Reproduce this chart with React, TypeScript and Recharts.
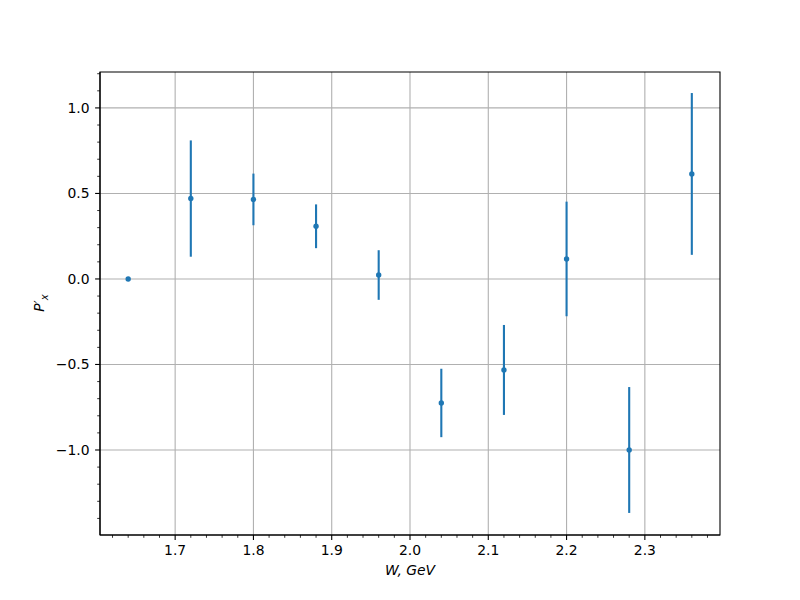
import { ScatterChart, Scatter, XAxis, YAxis, CartesianGrid, ErrorBar, ReferenceArea } from 'recharts';

// beam energy W (GeV) and measured P'x with its uncertainty
const wValues = [1.64, 1.72, 1.8, 1.88, 1.96, 2.04, 2.12, 2.2, 2.28, 2.36];
const pxValues = [0, 0.47, 0.465, 0.308, 0.023, -0.725, -0.532, 0.117, -1.0, 0.614];
const pxErrors = [0, 0.34, 0.151, 0.128, 0.145, 0.2, 0.263, 0.335, 0.368, 0.473];

const xMajorTicks = [1.7, 1.8, 1.9, 2.0, 2.1, 2.2, 2.3];
const xAllTicks = [
  1.62, 1.64, 1.66, 1.68, 1.7, 1.72, 1.74, 1.76, 1.78, 1.8, 1.82, 1.84, 1.86, 1.88, 1.9, 1.92, 1.94, 1.96, 1.98, 2.0,
  2.02, 2.04, 2.06, 2.08, 2.1, 2.12, 2.14, 2.16, 2.18, 2.2, 2.22, 2.24, 2.26, 2.28, 2.3, 2.32, 2.34, 2.36, 2.38,
];
const yMajorTicks = [-1.0, -0.5, 0, 0.5, 1.0];
const yAllTicks = [
  -1.4, -1.3, -1.2, -1.1, -1.0, -0.9, -0.8, -0.7, -0.6, -0.5, -0.4, -0.3, -0.2, -0.1, 0, 0.1, 0.2, 0.3, 0.4, 0.5,
  0.6, 0.7, 0.8, 0.9, 1.0, 1.1, 1.2,
];

const xDomain = [1.604, 2.396];
const yDomain = [-1.497, 1.21];

const BLUE = '#1f77b4';
const FONT = 'DejaVu Sans';

const data = wValues.map((w, i) => ({ w, px: pxValues[i], err: pxErrors[i] }));

const isMajor = (v: number, step: number) => Math.abs(v / step - Math.round(v / step)) < 1e-6;
const fmt = (v: number) => v.toFixed(1).replace('-', '\u2212');

const XTick = ({ x, y, payload }: any) => {
  const major = isMajor(payload.value, 0.1);
  return (
    <g>
      <line x1={x} x2={x} y1={y} y2={y + (major ? 4.9 : 2.8)} stroke="#000" strokeWidth={major ? 1.1 : 0.8} />
      {major && (
        <text x={x} y={y + 20} textAnchor="middle" fontFamily={FONT} fontSize={13.9} fill="#000">
          {fmt(payload.value)}
        </text>
      )}
    </g>
  );
};

const YTick = ({ x, y, payload }: any) => {
  const major = isMajor(payload.value, 0.5);
  return (
    <g>
      <line x1={x} x2={x - (major ? 4.9 : 2.8)} y1={y} y2={y} stroke="#000" strokeWidth={major ? 1.1 : 0.8} />
      {major && (
        <text x={x - 10.5} y={y + 5} textAnchor="end" fontFamily={FONT} fontSize={13.9} fill="#000">
          {fmt(payload.value)}
        </text>
      )}
    </g>
  );
};

const Dot = ({ cx, cy }: any) => <circle cx={cx} cy={cy} r={2.7} fill={BLUE} />;

export default function App() {
  return (
    <div style={{ position: 'absolute', left: 0, top: 0, background: '#fff' }}>
      <ScatterChart width={800} height={600} margin={{ top: 72, right: 80, bottom: 0, left: 0 }}>
        <CartesianGrid
          verticalValues={xMajorTicks}
          horizontalValues={yMajorTicks}
          stroke="#b0b0b0"
          strokeWidth={1.1}
        />
        <XAxis
          type="number"
          dataKey="w"
          domain={xDomain}
          allowDataOverflow
          ticks={xAllTicks}
          interval={0}
          tickSize={0}
          tickMargin={0}
          tickLine={false}
          tick={<XTick />}
          height={65}
          axisLine={{ stroke: '#000', strokeWidth: 1.1 }}
          label={{
            content: () => (
              <text x={410} y={575} textAnchor="middle" fontFamily={FONT} fontSize={13.9} fontStyle="italic" fill="#000">
                W, GeV
              </text>
            ),
          }}
        />
        <YAxis
          type="number"
          dataKey="px"
          domain={yDomain}
          allowDataOverflow
          ticks={yAllTicks}
          interval={0}
          tickSize={0}
          tickMargin={0}
          tickLine={false}
          tick={<YTick />}
          width={100}
          axisLine={{ stroke: '#000', strokeWidth: 1.1 }}
          label={{
            content: () => (
              <text
                x={44}
                y={303}
                transform="rotate(-90 44 303)"
                textAnchor="middle"
                fontFamily={FONT}
                fontSize={13.9}
                fill="#000"
              >
                <tspan fontStyle="italic">P</tspan>
                <tspan fontSize={13.9}>{'\u2032'}</tspan>
                <tspan dy={4} fontSize={10} fontStyle="italic">x</tspan>
              </text>
            ),
          }}
        />
        <ReferenceArea
          x1={xDomain[0]}
          x2={xDomain[1]}
          y1={yDomain[0]}
          y2={yDomain[1]}
          fill="none"
          stroke="#000"
          strokeWidth={1.1}
          ifOverflow="visible"
        />
        <Scatter data={data} fill={BLUE} shape={<Dot />} isAnimationActive={false}>
          <ErrorBar dataKey="err" direction="y" width={0} stroke={BLUE} strokeWidth={2.1} isAnimationActive={false} />
        </Scatter>
      </ScatterChart>
    </div>
  );
}
